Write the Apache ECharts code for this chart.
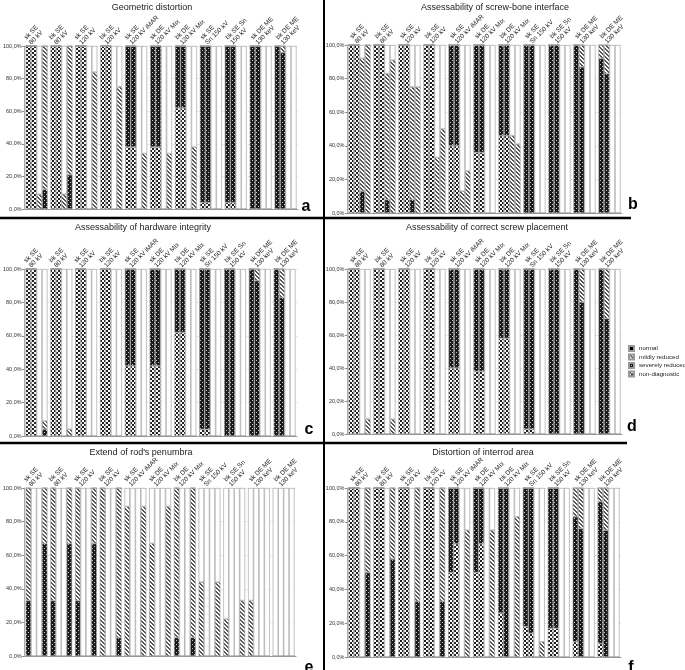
<!DOCTYPE html>
<html><head><meta charset="utf-8">
<script src="https://cdn.jsdelivr.net/npm/echarts@6/dist/echarts.min.js"></script>
<style>html,body{margin:0;padding:0;background:#fff}#c{width:685px;height:670px}</style>
</head><body><div id="c"></div>
<script>
const categories = ['sk SE\n80 kV','bk SE\n80 kV','sk SE\n120 kV','bk SE\n120 kV','sk SE\n120 kV iMAR','sk DE\n120 kV Mix','bk DE\n120 kV Mix','sk SE\nSn 150 kV','bk SE Sn\n150 kV','sk DE ME\n130 keV','bk DE ME\n130 keV'];
const yTickLabels = ['0,0%','20,0%','40,0%','60,0%','80,0%','100,0%'];
const gradeNames = ['non-diagnostic','severely reduced','mildly reduced','normal'];
const panelTitles = ['Geometric distortion','Assessability of screw-bone interface','Assessability of hardware integrity','Assessability of correct screw placement',"Extend of rod's penumbra",'Distortion of interrod area'];
const panelLetters = ['a','b','c','d','e','f'];

// each entry per category: [non-diagnostic, severely reduced, mildly reduced, normal] (%)
// A: Geometric distortion
const geomBar1 = [[100,0,0,0],[100,0,0,0],[100,0,0,0],[100,0,0,0],[38,62,0,0],[38,62,0,0],[62,38,0,0],[4,96,0,0],[4,96,0,0],[0,100,0,0],[0,100,0,0]];
const geomBar2 = [[100,0,0,0],[100,0,0,0],[100,0,0,0],[100,0,0,0],[38,62,0,0],[38,62,0,0],[62,38,0,0],[4,96,0,0],[4,96,0,0],[0,100,0,0],[0,96,4,0]];
const geomBar3 = [[0,0,9,91],[0,0,9,91],[0,0,0,100],[0,0,0,100],[0,0,0,100],[0,0,0,100],[0,0,0,100],[0,0,0,100],[0,0,0,100],[0,0,0,100],[0,0,0,100]];
const geomBar4 = [[0,12,88,0],[0,21,79,0],[0,0,84,16],[0,0,75,25],[0,0,34,66],[0,0,34,66],[0,0,38,62],[0,0,0,100],[0,0,0,100],[0,0,0,100],[0,0,0,100]];
// B: screw-bone interface
const screwBar1 = [[100,0,0,0],[100,0,0,0],[100,0,0,0],[100,0,0,0],[40,60,0,0],[36,64,0,0],[46,54,0,0],[0,100,0,0],[0,100,0,0],[0,100,0,0],[0,92,8,0]];
const screwBar2 = [[100,0,0,0],[100,0,0,0],[100,0,0,0],[100,0,0,0],[40,60,0,0],[36,64,0,0],[46,54,0,0],[0,100,0,0],[0,100,0,0],[0,87,13,0],[0,83,17,0]];
const screwBar3 = [[0,13,79,8],[0,8,75,17],[0,8,67,25],[0,0,33,67],[0,0,13,87],[0,0,0,100],[0,0,46,54],[0,0,0,100],[0,0,0,100],[0,0,0,100],[0,0,0,100]];
const screwBar4 = [[0,0,100,0],[0,0,91,9],[0,0,75,25],[0,0,50,50],[0,0,25,75],[0,0,0,100],[0,0,41,59],[0,0,0,100],[0,0,0,100],[0,0,0,100],[0,0,0,100]];
// C: hardware integrity
const hwBar1 = [[100,0,0,0],[100,0,0,0],[100,0,0,0],[100,0,0,0],[42,58,0,0],[42,58,0,0],[62,38,0,0],[4,96,0,0],[0,100,0,0],[0,100,0,0],[0,100,0,0]];
const hwBar2 = [[100,0,0,0],[100,0,0,0],[100,0,0,0],[100,0,0,0],[42,58,0,0],[42,58,0,0],[62,38,0,0],[4,96,0,0],[0,100,0,0],[0,93,7,0],[0,83,17,0]];
const hwBar3 = [[0,0,0,100],[0,0,0,100],[0,0,0,100],[0,0,0,100],[0,0,0,100],[0,0,0,100],[0,0,0,100],[0,0,0,100],[0,0,0,100],[0,0,0,100],[0,0,0,100]];
const hwBar4 = [[0,4,5,91],[0,0,4,96],[0,0,0,100],[0,0,0,100],[0,0,0,100],[0,0,0,100],[0,0,0,100],[0,0,0,100],[0,0,0,100],[0,0,0,100],[0,0,0,100]];
// D: correct screw placement
const placeBar1 = [[100,0,0,0],[100,0,0,0],[100,0,0,0],[100,0,0,0],[40,60,0,0],[38,62,0,0],[58,42,0,0],[3,97,0,0],[0,100,0,0],[0,100,0,0],[0,100,0,0]];
const placeBar2 = [[100,0,0,0],[100,0,0,0],[100,0,0,0],[100,0,0,0],[40,60,0,0],[38,62,0,0],[58,42,0,0],[3,97,0,0],[0,100,0,0],[0,80,20,0],[0,70,30,0]];
const placeBar3 = [[0,0,0,100],[0,0,0,100],[0,0,0,100],[0,0,0,100],[0,0,0,100],[0,0,0,100],[0,0,0,100],[0,0,0,100],[0,0,0,100],[0,0,0,100],[0,0,0,100]];
const placeBar4 = [[0,0,9,91],[0,0,9,91],[0,0,0,100],[0,0,0,100],[0,0,0,100],[0,0,0,100],[0,0,0,100],[0,0,0,100],[0,0,0,100],[0,0,0,100],[0,0,0,100]];
// E: rod's penumbra
const rodBar1 = [[0,33,67,0],[0,33,67,0],[0,33,67,0],[0,0,100,0],[0,0,89,11],[0,0,67,33],[0,11,89,0],[0,0,44,56],[0,0,22,78],[0,0,33,67],[0,0,0,100]];
const rodBar2 = [[0,0,0,100],[0,0,0,100],[0,0,0,100],[0,0,0,100],[0,0,0,100],[0,0,0,100],[0,0,0,100],[0,0,0,100],[0,0,0,100],[0,0,0,100],[0,0,0,100]];
const rodBar3 = [[0,0,0,100],[0,0,0,100],[0,0,0,100],[0,0,0,100],[0,0,0,100],[0,0,0,100],[0,0,0,100],[0,0,0,100],[0,0,0,100],[0,0,0,100],[0,0,0,100]];
const rodBar4 = [[0,67,33,0],[0,67,33,0],[0,67,33,0],[0,11,89,0],[0,0,89,11],[0,0,89,11],[0,11,89,0],[0,0,44,56],[0,0,33,67],[0,0,0,100],[0,0,0,100]];
// F: interrod area
const interBar1 = [[100,0,0,0],[100,0,0,0],[100,0,0,0],[100,0,0,0],[50,50,0,0],[50,50,0,0],[26,74,0,0],[18,82,0,0],[17,83,0,0],[9,74,17,0],[8,84,8,0]];
const interBar2 = [[100,0,0,0],[100,0,0,0],[100,0,0,0],[100,0,0,0],[67,33,0,0],[67,33,0,0],[0,100,0,0],[14,86,0,0],[17,83,0,0],[0,76,24,0],[0,75,25,0]];
const interBar3 = [[0,0,0,100],[0,0,0,100],[0,0,0,100],[0,0,0,100],[0,0,0,100],[0,0,0,100],[0,0,0,100],[0,0,0,100],[0,0,0,100],[0,0,0,100],[0,0,0,100]];
const interBar4 = [[0,50,50,0],[0,58,42,0],[0,33,67,0],[0,33,67,0],[0,0,75,25],[0,0,75,25],[0,0,83,17],[0,0,9,91],[0,0,0,100],[0,0,0,100],[0,0,0,100]];

const panelBars = [
  [geomBar1, geomBar2, geomBar3, geomBar4],
  [screwBar1, screwBar2, screwBar3, screwBar4],
  [hwBar1, hwBar2, hwBar3, hwBar4],
  [placeBar1, placeBar2, placeBar3, placeBar4],
  [rodBar1, rodBar2, rodBar3, rodBar4],
  [interBar1, interBar2, interBar3, interBar4]
];

// layout (pixels)
const layout = [
  {left:21, top:46, width:277, height:163, tx:152, ty:8, lx:306, ly:207},
  {left:347, top:45, width:275, height:168, tx:495, ty:8, lx:633, ly:205},
  {left:21, top:269, width:276, height:167, tx:143, ty:228, lx:309, ly:430},
  {left:347, top:269, width:275, height:165, tx:487, ty:228, lx:632, ly:427},
  {left:21, top:488, width:275, height:168, tx:141, ty:453, lx:309, ly:668},
  {left:347, top:488, width:274, height:169, tx:483, ty:453, lx:631, ly:668}
];

function pat(w,h,draw){const c=document.createElement('canvas');c.width=w;c.height=h;const g=c.getContext('2d');draw(g);return {image:c,repeat:'repeat'};}
const patND = pat(4,4,g=>{g.fillStyle='#fff';g.fillRect(0,0,4,4);g.fillStyle='#1e1e1e';g.fillRect(0,0,2,2);g.fillRect(2,2,2,2);});
const patSev = pat(4,4,g=>{g.fillStyle='#1a1a1a';g.fillRect(0,0,4,4);g.fillStyle='#c8c8c8';g.fillRect(0,0,1,1);g.fillRect(2,2,1,1);});
const patMild = pat(4,4,g=>{g.fillStyle='#fff';g.fillRect(0,0,4,4);g.fillStyle='#555';for(let i=0;i<4;i++){g.fillRect(i,i,1,1);g.fillRect((i+1)%4,i,1,1);}});
const gradeFills = [patND, patSev, patMild, '#ffffff'];

const FONT = 'Liberation Sans, Arial, sans-serif';
const grids=[], xAxes=[], yAxes=[], series=[], graphics=[];

layout.forEach((L,i)=>{
  grids.push({left:L.left, top:L.top, width:L.width, height:L.height, containLabel:false});
  xAxes.push({gridIndex:i, type:'category', data:categories, position:'bottom',
    axisLabel:{show:false}, axisTick:{show:false}, axisLine:{show:true, lineStyle:{color:'#9a9a9a', width:1}}});
  yAxes.push({gridIndex:i, type:'value', min:0, max:100, interval:20,
    axisLabel:{fontSize:5.5, color:'#333', margin:2.5, fontFamily:FONT, formatter:v=>yTickLabels[Math.round(v/20)]},
    axisTick:{show:true, length:2, lineStyle:{color:'#888'}},
    axisLine:{show:true, lineStyle:{color:'#aaa'}},
    splitLine:{show:true, lineStyle:{color:'#c8c8c8', type:'dotted', width:0.8}}});
  panelBars[i].forEach((barData,b)=>{
    gradeNames.forEach((gn,g)=>{
      series.push({type:'bar', name:gn, xAxisIndex:i, yAxisIndex:i, stack:'p'+i+'b'+b,
        data: barData.map(q=>q[g]), barGap:'0%', barCategoryGap:'12%', silent:true, animation:false,
        itemStyle:{color:gradeFills[g], borderColor:'#999', borderWidth:0.6}});
    });
  });
  graphics.push({type:'text', x:L.tx, y:L.ty, style:{text:panelTitles[i], font:'9px '+FONT, fill:'#222', align:'center', verticalAlign:'middle'}});
  graphics.push({type:'text', x:L.lx, y:L.ly, style:{text:panelLetters[i], font:'bold 16px '+FONT, fill:'#000', align:'center', verticalAlign:'middle'}});
});
// label-only grids (shifted so that labels start near the group's left edge)
layout.forEach((L,i)=>{
  grids.push({left:L.left-6, top:L.top, width:L.width, height:L.height, containLabel:false});
  xAxes.push({gridIndex:6+i, type:'category', data:categories, position:'top',
    axisLine:{show:false}, axisTick:{show:false},
    axisLabel:{interval:0, rotate:45, align:'left', verticalAlign:'middle', fontSize:6.5, lineHeight:7, margin:5, color:'#222', fontFamily:FONT}});
  yAxes.push({gridIndex:6+i, type:'value', min:0, max:100, show:false});
});

// separator lines
graphics.push({type:'line', shape:{x1:324, y1:0, x2:324, y2:670}, style:{stroke:'#000', lineWidth:2}});
graphics.push({type:'line', shape:{x1:0, y1:218, x2:631, y2:218}, style:{stroke:'#000', lineWidth:2.5}});
graphics.push({type:'line', shape:{x1:0, y1:443, x2:627, y2:443}, style:{stroke:'#000', lineWidth:2.5}});

const chart = echarts.init(document.getElementById('c'), null, {renderer:'canvas'});
chart.setOption({
  animation:false,
  backgroundColor:'#fff',
  grid:grids, xAxis:xAxes, yAxis:yAxes, series:series,
  legend:{orient:'vertical', left:623, top:340, itemWidth:5, itemHeight:5, itemGap:1.5, icon:'rect', selectedMode:false,
    textStyle:{fontSize:6.2, color:'#222', fontFamily:FONT},
    data:[{name:'normal', itemStyle:{color:'#000'}}, 'mildly reduced', 'severely reduced', 'non-diagnostic']},
  graphic:graphics
});
</script></body></html>
